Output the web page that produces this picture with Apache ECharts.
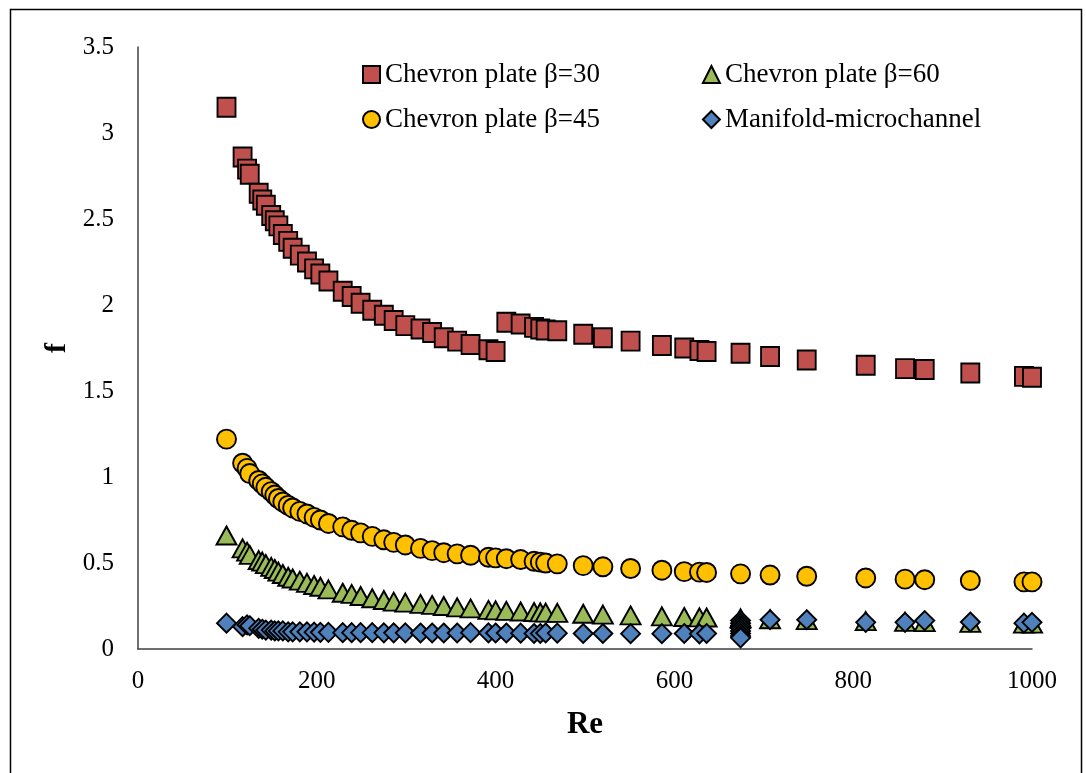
<!DOCTYPE html>
<html>
<head>
<meta charset="utf-8">
<title>Friction factor vs Reynolds number</title>
<script src="https://cdn.jsdelivr.net/npm/echarts@6/dist/echarts.min.js"></script>
<style>
  html, body { margin: 0; padding: 0; background: #ffffff; }
  #chart { width: 1086px; height: 773px; }
</style>
</head>
<body>
<div id="chart"></div>
<script>
// Reynolds numbers shared by the chevron plate runs
const reChevron = [99, 117, 122, 125, 135, 139, 143, 149, 153, 157, 162, 168, 173, 181, 189, 197,
  204, 213, 229, 239, 249, 262, 275, 286, 299, 316, 329, 342, 357, 372, 392, 400,
  412, 428, 443, 450, 456, 469, 498, 520, 551, 586, 611, 628, 636, 674, 707, 748,
  814, 858, 880, 931, 991, 1000];

// Friction factor, chevron plate beta = 30
const fBeta30 = [3.15, 2.86, 2.79, 2.76, 2.65, 2.61, 2.58, 2.52, 2.49, 2.46, 2.41, 2.37, 2.33, 2.29, 2.25, 2.21,
  2.18, 2.14, 2.08, 2.05, 2.01, 1.97, 1.94, 1.91, 1.88, 1.86, 1.84, 1.81, 1.79, 1.77, 1.74, 1.73,
  1.90, 1.89, 1.87, 1.86, 1.855, 1.85, 1.83, 1.81, 1.79, 1.765, 1.75, 1.735, 1.73, 1.72, 1.70, 1.68,
  1.65, 1.63, 1.625, 1.605, 1.585, 1.58];

// Friction factor, chevron plate beta = 45
const fBeta45 = [1.22, 1.08, 1.05, 1.02, 0.98, 0.96, 0.94, 0.915, 0.895, 0.875, 0.855, 0.835, 0.82, 0.80, 0.785, 0.765,
  0.75, 0.73, 0.71, 0.69, 0.675, 0.655, 0.635, 0.62, 0.605, 0.585, 0.572, 0.56, 0.553, 0.545, 0.533, 0.53,
  0.525, 0.52, 0.51, 0.505, 0.50, 0.495, 0.485, 0.478, 0.468, 0.458, 0.45, 0.447, 0.445, 0.437, 0.43, 0.423,
  0.413, 0.406, 0.403, 0.398, 0.39, 0.39];

// Friction factor, chevron plate beta = 60
const fBeta60 = [0.66, 0.585, 0.566, 0.547, 0.517, 0.508, 0.494, 0.478, 0.465, 0.45, 0.436, 0.42, 0.41, 0.397, 0.385, 0.372,
  0.362, 0.347, 0.327, 0.32, 0.308, 0.295, 0.285, 0.275, 0.27, 0.262, 0.256, 0.25, 0.242, 0.236, 0.227, 0.225,
  0.222, 0.218, 0.215, 0.213, 0.212, 0.21, 0.205, 0.2, 0.195, 0.19, 0.186, 0.184, 0.183, 0.178, 0.173, 0.168,
  0.162, 0.158, 0.156, 0.152, 0.148, 0.147];

// Manifold-microchannel runs (several repeats at Re = 674)
const reManifold = [99, 117, 122, 125, 135, 139, 143, 149, 153, 157, 162, 168, 173, 181, 189, 197,
  204, 213, 229, 239, 249, 262, 275, 286, 299, 316, 329, 342, 357, 372, 392, 400,
  412, 428, 443, 450, 456, 469, 498, 520, 551, 586, 611, 628, 636,
  674, 674, 674, 674, 674, 674, 674, 674,
  707, 748, 814, 858, 880, 931, 991, 1000];
const fManifold = [0.15, 0.13, 0.14, 0.135, 0.12, 0.115, 0.11, 0.11, 0.105, 0.105, 0.105, 0.10, 0.10, 0.10, 0.10, 0.098,
  0.097, 0.097, 0.095, 0.095, 0.095, 0.095, 0.094, 0.094, 0.094, 0.093, 0.093, 0.093, 0.093, 0.095, 0.094, 0.093,
  0.093, 0.092, 0.09, 0.09, 0.093, 0.092, 0.09, 0.09, 0.089, 0.089, 0.09, 0.088, 0.09,
  0.165, 0.15, 0.135, 0.12, 0.105, 0.09, 0.075, 0.065,
  0.17, 0.17, 0.155, 0.155, 0.165, 0.157, 0.15, 0.155];

const seriesNames = ['Chevron plate β=30', 'Chevron plate β=60', 'Chevron plate β=45', 'Manifold-microchannel'];

const xTicks = { min: 0, max: 1000, interval: 200 };
const yTicks = { min: 0, max: 3.5, interval: 0.5 };

function pairs(xs, ys) {
  return xs.map((x, i) => [x, ys[i]]);
}

const FONT = 'Liberation Serif, Times New Roman, serif';
const edge = { borderColor: '#000000', borderWidth: 1.9, opacity: 1 };

const chart = echarts.init(document.getElementById('chart'), null, { renderer: 'canvas' });

const legendCommon = {
  left: 362, padding: 0,
  itemWidth: 17, itemHeight: 17, itemGap: 102,
  textStyle: { fontFamily: FONT, fontSize: 27, color: '#000000' }
};

chart.setOption({
  backgroundColor: '#ffffff',
  animation: false,
  textStyle: { fontFamily: FONT, color: '#000000' },
  grid: { left: 138, right: 54, top: 47, bottom: 124, containLabel: false },
  graphic: [{
    type: 'rect',
    left: 8, top: 7,
    shape: { width: 1071, height: 800 },
    style: { fill: 'none', stroke: '#000000', lineWidth: 1.5 },
    silent: true
  }],
  legend: [
    Object.assign({ data: [seriesNames[0], seriesNames[1]], top: 61 }, legendCommon),
    Object.assign({ data: [seriesNames[2], seriesNames[3]], top: 106 }, legendCommon)
  ],
  xAxis: {
    type: 'value',
    min: xTicks.min, max: xTicks.max, interval: xTicks.interval,
    name: 'Re', nameLocation: 'middle', nameGap: 60,
    nameTextStyle: { fontFamily: FONT, fontSize: 31, fontWeight: 'bold', color: '#000000' },
    axisLine: { show: true, lineStyle: { color: '#404040', width: 1.5 } },
    axisTick: { show: false },
    splitLine: { show: false },
    axisLabel: {
      fontFamily: FONT, fontSize: 25, color: '#000000', margin: 20,
      formatter: (v) => String(v)
    }
  },
  yAxis: {
    type: 'value',
    min: yTicks.min, max: yTicks.max, interval: yTicks.interval,
    name: 'f', nameLocation: 'middle', nameGap: 63, nameRotate: 90,
    nameTextStyle: { fontFamily: FONT, fontSize: 30, fontWeight: 'bold', color: '#000000' },
    axisLine: { show: true, lineStyle: { color: '#404040', width: 1.5 } },
    axisTick: { show: false },
    splitLine: { show: false },
    axisLabel: {
      fontFamily: FONT, fontSize: 25, color: '#000000', margin: 24,
      formatter: (v) => String(v)
    }
  },
  series: [
    {
      name: seriesNames[0], type: 'scatter', symbol: 'rect', symbolSize: [18, 19],
      itemStyle: Object.assign({ color: '#C0504D' }, edge),
      data: pairs(reChevron, fBeta30)
    },
    {
      name: seriesNames[2], type: 'scatter', symbol: 'circle', symbolSize: 19,
      itemStyle: Object.assign({ color: '#FFC000' }, edge),
      data: pairs(reChevron, fBeta45)
    },
    {
      name: seriesNames[1], type: 'scatter', symbol: 'triangle', symbolSize: [20, 18],
      itemStyle: Object.assign({ color: '#9BBB59' }, edge),
      data: pairs(reChevron, fBeta60)
    },
    {
      name: seriesNames[3], type: 'scatter', symbol: 'diamond', symbolSize: 19,
      itemStyle: Object.assign({ color: '#4F81BD' }, edge),
      data: pairs(reManifold, fManifold)
    }
  ]
});
</script>
</body>
</html>
